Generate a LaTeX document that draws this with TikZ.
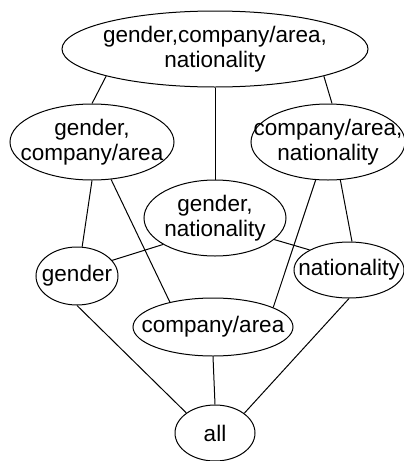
\documentclass[tikz,border=0pt]{standalone}
\usepackage{fontspec}
\setmainfont{Liberation Sans}
\usetikzlibrary{shapes.geometric}
\tikzset{
  attrset/.style={draw, ellipse, inner sep=0pt, line width=1pt},
  attrname/.style={align=center, inner sep=0pt, font=\fontsize{22.5}{25.5}\selectfont},
  link/.style={line width=1pt},
}
% name, x, y, width, height, text
\newcommand{\attrnode}[6]{\node[attrset, minimum width=#4pt, minimum height=#5pt, label={[attrname]center:{#6}}] (#1) at (#2,#3) {};}

\begin{document}
\begin{tikzpicture}[x=1pt,y=-1pt]

    \useasboundingbox (0,0) rectangle (404,461);

    \attrnode{gcn}{215}{49}{306}{76}{gender,company/area,\\nationality}
    \attrnode{gc}{92}{142}{164}{76}{gender,\\company/area}
    \attrnode{cn}{328}{142}{154}{76}{company/area,\\nationality}
    \attrnode{gn}{215}{218}{142}{76}{gender,\\nationality}
    \attrnode{g}{77}{276}{82}{58}{gender}
    \attrnode{n}{349}{270}{110}{56}{nationality}
    \attrnode{c}{213}{327}{160}{58}{company/area}
    \attrnode{all}{215}{433}{80}{56}{all}

    \draw[link] (gcn.194) -- (gc.90);
    \draw[link] (gcn.270) -- (gn.90);
    \draw[link] (gcn.346) -- (cn.84);

    \draw[link] (gc.270) -- (g.80);
    \draw[link] (gc.297) -- (c.150);
    \draw[link] (gn.207) -- (g.24);
    \draw[link] (gn.340) -- (n.153);
    \draw[link] (cn.252) -- (c.18);
    \draw[link] (cn.288) -- (n.84);

    \draw[link] (g.270) -- (all.145);
    \draw[link] (c.270) -- (all.90);
    \draw[link] (n.270) -- (all.34);
\end{tikzpicture}
\end{document}
